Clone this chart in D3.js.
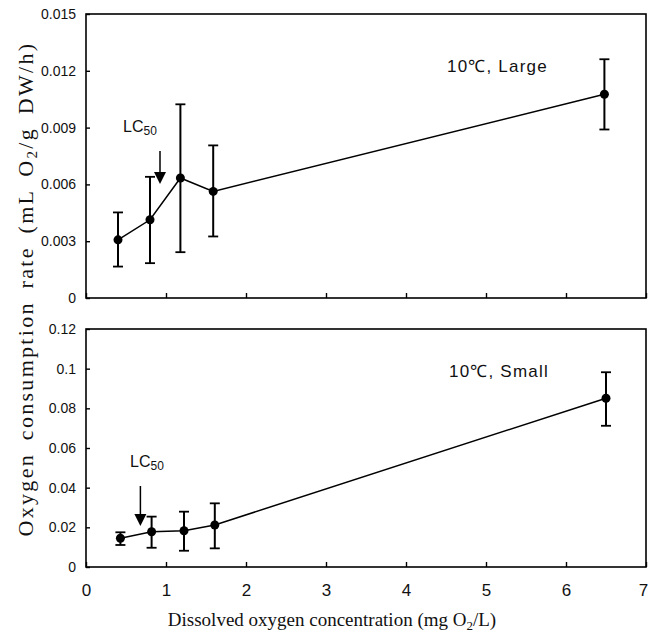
<!DOCTYPE html>
<html lang="en">
<head>
<meta charset="utf-8">
<title>Oxygen consumption</title>
<script src="https://d3js.org/d3.v7.min.js"></script>
<style>
body { margin:0; background:#fff; }
.tick text { font-family: "Liberation Sans", Arial, sans-serif; }
.ttl { font-family: "Liberation Serif", "Times New Roman", serif; }
</style>
</head>
<body>
<div id="chart"></div>
<script>
// dissolved oxygen (x)
var largeX = [0.40, 0.80, 1.18, 1.59, 6.48]
var largeY = [0.00307, 0.00413, 0.00634, 0.00563, 0.01076]
var largeLo = [0.00166, 0.00184, 0.00242, 0.00325, 0.0089]
var largeHi = [0.00452, 0.0064, 0.01023, 0.00806, 0.01261]

var smallX = [0.43, 0.82, 1.225, 1.61, 6.5]
var smallY = [0.0145, 0.0178, 0.0183, 0.0212, 0.0851]
var smallLo = [0.0111, 0.0097, 0.0082, 0.0094, 0.0712]
var smallHi = [0.0175, 0.0254, 0.0279, 0.0321, 0.0982]

var xTicks = [0, 1, 2, 3, 4, 5, 6, 7]
var largeTicks = [0, 0.003, 0.006, 0.009, 0.012, 0.015]
var largeTickLabels = ["0", "0.003", "0.006", "0.009", "0.012", "0.015"]
var smallTicks = [0, 0.02, 0.04, 0.06, 0.08, 0.1, 0.12]
var smallTickLabels = ["0", "0.02", "0.04", "0.06", "0.08", "0.1", "0.12"]

var w = 652
var h = 635
var svg = d3.select("#chart").append("svg")
    .attr("width", w).attr("height", h)

var xScale = d3.scaleLinear().domain([0, 7]).range([86, 646])

function drawPanel(cfg) {
    var yScale = d3.scaleLinear().domain([0, cfg.max]).range([cfg.bottom, cfg.top])
    var g = svg.append("g")

    // frame
    g.append("rect")
        .attr("x", xScale(0)).attr("y", cfg.top)
        .attr("width", xScale(7) - xScale(0)).attr("height", cfg.bottom - cfg.top)
        .attr("fill", "none").attr("stroke", "#000").attr("stroke-width", 1.6)

    var yAxis = d3.axisLeft(yScale).tickValues(cfg.ticks)
        .tickFormat(function(d, i) { return cfg.labels[i] })
        .tickSize(-4).tickPadding(10)
    var ya = g.append("g").attr("transform", "translate(" + xScale(0) + ",0)").call(yAxis)
    ya.select(".domain").remove()
    ya.selectAll("line").attr("stroke-width", 1.4)
    ya.selectAll("text").style("font-size", "14px").attr("fill", "#111")

    var xAxis = d3.axisBottom(xScale).tickValues(xTicks).tickSize(-5).tickPadding(17)
        .tickFormat(cfg.xlabels ? d3.format("d") : "")
    var xa = g.append("g").attr("transform", "translate(0," + cfg.bottom + ")").call(xAxis)
    xa.select(".domain").remove()
    xa.selectAll("line").attr("stroke-width", 1.4)
    xa.selectAll("text").style("font-size", "17px").attr("fill", "#111")
    xa.selectAll("text").filter(function(d) { return d === 7 }).attr("dx", -3)

    var pts = cfg.x.map(function(v, i) {
        return { x: v, y: cfg.y[i], lo: cfg.lo[i], hi: cfg.hi[i] }
    })

    var line = d3.line().x(function(d) { return xScale(d.x) }).y(function(d) { return yScale(d.y) })
    g.append("path").datum(pts).attr("d", line)
        .attr("fill", "none").attr("stroke", "#000").attr("stroke-width", 1.5)

    var eb = g.selectAll(".eb").data(pts).enter().append("g")
    eb.append("line")
        .attr("x1", function(d) { return xScale(d.x) }).attr("x2", function(d) { return xScale(d.x) })
        .attr("y1", function(d) { return yScale(d.lo) }).attr("y2", function(d) { return yScale(d.hi) })
        .attr("stroke", "#000").attr("stroke-width", 2)
    ;["lo", "hi"].forEach(function(k) {
        eb.append("line")
            .attr("x1", function(d) { return xScale(d.x) - 5 }).attr("x2", function(d) { return xScale(d.x) + 5 })
            .attr("y1", function(d) { return yScale(d[k]) }).attr("y2", function(d) { return yScale(d[k]) })
            .attr("stroke", "#000").attr("stroke-width", 1.8)
    })
    eb.append("circle")
        .attr("cx", function(d) { return xScale(d.x) }).attr("cy", function(d) { return yScale(d.y) })
        .attr("r", 4.5).attr("fill", "#000")

    // LC50 arrow
    var ax = xScale(cfg.arrowX)
    g.append("line").attr("x1", ax).attr("x2", ax)
        .attr("y1", cfg.arrowTop).attr("y2", cfg.arrowTip - 10)
        .attr("stroke", "#000").attr("stroke-width", 1.5)
    g.append("path")
        .attr("d", "M" + (ax - 6) + "," + (cfg.arrowTip - 12) + "L" + (ax + 6) + "," + (cfg.arrowTip - 12) + "L" + ax + "," + cfg.arrowTip + "Z")
        .attr("fill", "#000")
    var lc = g.append("text").attr("x", cfg.lcX).attr("y", cfg.lcY)
        .attr("font-family", "Liberation Sans, Arial, sans-serif").attr("font-size", 16).attr("fill", "#111")
    lc.append("tspan").text("LC")
    lc.append("tspan").attr("font-size", 12).attr("dy", 3).text("50")

    g.append("text").attr("x", cfg.tagX).attr("y", cfg.tagY)
        .attr("font-family", "Liberation Sans, Arial, sans-serif").attr("font-size", 17)
        .attr("letter-spacing", 1.2).attr("fill", "#111")
        .text(cfg.tag)
}

drawPanel({ max: 0.015, top: 14, bottom: 298, ticks: largeTicks, labels: largeTickLabels,
    x: largeX, y: largeY, lo: largeLo, hi: largeHi, xlabels: false,
    arrowX: 0.925, arrowTop: 151, arrowTip: 184, lcX: 123, lcY: 132,
    tag: "10℃, Large", tagX: 447, tagY: 72 })

drawPanel({ max: 0.12, top: 329, bottom: 567, ticks: smallTicks, labels: smallTickLabels,
    x: smallX, y: smallY, lo: smallLo, hi: smallHi, xlabels: true,
    arrowX: 0.68, arrowTop: 486, arrowTip: 526, lcX: 130, lcY: 467,
    tag: "10℃, Small", tagX: 449, tagY: 377 })

// axis titles
var xt = svg.append("text").attr("class", "ttl")
    .attr("x", xScale(3.5) - 34).attr("y", 626).attr("text-anchor", "middle")
    .attr("font-size", 19).attr("fill", "#111")
xt.append("tspan").text("Dissolved oxygen concentration (mg O")
xt.append("tspan").attr("font-size", 13).attr("dy", 4).text("2")
xt.append("tspan").attr("dy", -4).text("/L)")

var yt = svg.append("text").attr("class", "ttl")
    .attr("transform", "translate(33,289) rotate(-90)").attr("text-anchor", "middle")
    .attr("font-size", 22).attr("letter-spacing", 2.3).attr("word-spacing", 5).attr("fill", "#111")
yt.append("tspan").text("Oxygen consumption rate (mL O")
yt.append("tspan").attr("font-size", 15).attr("dy", 4).text("2")
yt.append("tspan").attr("dy", -4).text("/g DW/h)")
</script>
</body>
</html>
